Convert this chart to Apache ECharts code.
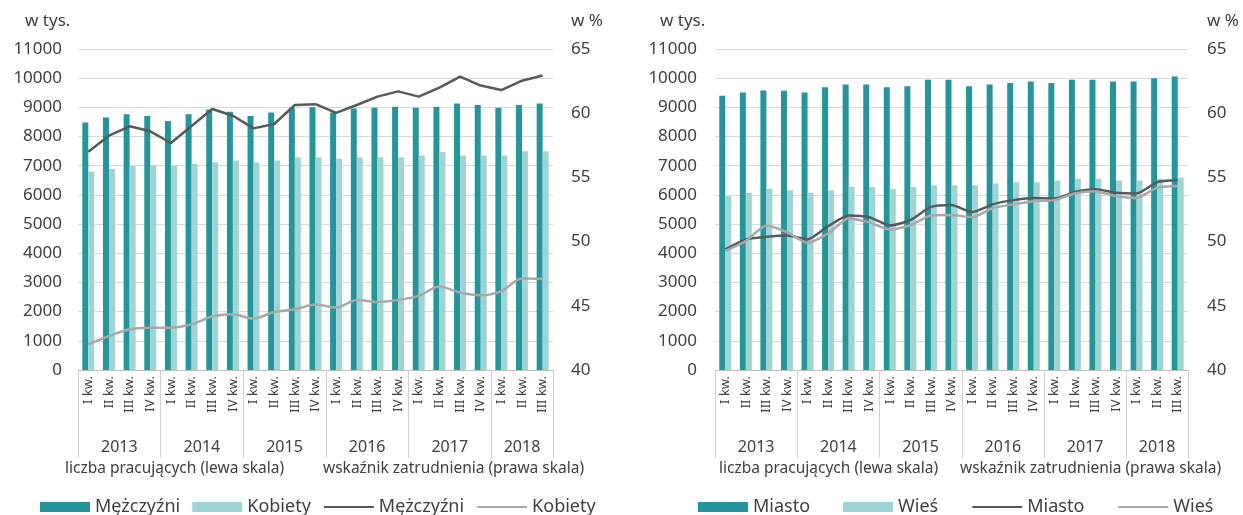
<!DOCTYPE html>
<html>
<head>
<meta charset="utf-8">
<script src="https://cdn.jsdelivr.net/npm/echarts@6/dist/echarts.min.js"></script>
<style>
html,body{margin:0;padding:0;background:#fff;}
#c{width:1243px;height:515px;}
</style>
</head>
<body>
<div id="c"></div>
<script>
// ---- data ----
const quarters = ['I kw.','II kw.','III kw.','IV kw.','I kw.','II kw.','III kw.','IV kw.','I kw.','II kw.','III kw.','IV kw.','I kw.','II kw.','III kw.','IV kw.','I kw.','II kw.','III kw.','IV kw.','I kw.','II kw.','III kw.'];
const years = ['2013','2014','2015','2016','2017','2018'];
const quartersPerYear = [4,4,4,4,4,3];
const leftTicks = [0,1000,2000,3000,4000,5000,6000,7000,8000,9000,10000,11000];
const rightTicks = [40,45,50,55,60,65];

const menBars = [8480,8650,8760,8700,8530,8760,8930,8850,8700,8820,8990,9000,8820,8960,8990,9020,8990,9020,9130,9080,8990,9080,9130];
const womenBars = [6800,6890,7000,7000,7000,7060,7120,7180,7120,7180,7290,7290,7240,7290,7290,7290,7350,7470,7350,7350,7350,7500,7500];
const menRate = [57.0,58.25,58.98,58.59,57.68,59.0,60.33,59.8,58.82,59.16,60.64,60.7,60.02,60.64,61.29,61.7,61.29,62.0,62.85,62.15,61.8,62.53,62.93];
const womenRate = [42.0,42.64,43.17,43.3,43.3,43.56,44.16,44.34,44.0,44.52,44.73,45.1,44.86,45.45,45.3,45.45,45.77,46.5,46.03,45.82,46.15,47.12,47.1];

const cityBars = [9400,9510,9580,9570,9510,9685,9780,9780,9685,9720,9950,9950,9720,9780,9835,9890,9835,9950,9950,9890,9890,10000,10060];
const villageBars = [5950,6070,6215,6160,6070,6160,6275,6275,6215,6275,6330,6330,6330,6390,6430,6430,6490,6550,6550,6490,6490,6550,6600];
const cityRate = [49.4,50.17,50.37,50.47,50.17,51.2,52.03,51.9,51.26,51.67,52.7,52.85,52.3,52.9,53.23,53.4,53.35,53.86,54.07,53.8,53.75,54.63,54.8];
const villageRate = [49.27,50.05,51.26,50.74,49.9,50.63,51.8,51.5,50.94,51.26,52.04,52.07,51.9,52.6,52.9,53.15,53.23,53.75,53.93,53.54,53.4,54.2,54.33];

// ---- derived year positions on the category index scale ----
const yearBounds = [-0.5];
const yearCenters = [];
let acc = -0.5;
quartersPerYear.forEach(n => { yearCenters.push(acc + n / 2); acc += n; yearBounds.push(acc); });

const FONT = 'Noto Sans';
const NARROW = '"Liberation Sans Narrow", "Noto Sans", sans-serif';
const TXT = '#404040';
const DARK = '#24959a';
const LIGHT = '#9fd4d4';
const LDARK = '#555a5d';
const LLIGHT = '#a8a8a8';
const GRID = '#d9d9d9';
const RATE_SUFFIX = ' \u2013 wskaźnik';

function xAxesFor(g) {
  return [
    {
      gridIndex: g, type: 'category', data: quarters, boundaryGap: true, position: 'bottom',
      axisLine: { show: true, lineStyle: { color: '#bfbfbf', width: 1 } },
      axisTick: { show: false },
      axisLabel: { rotate: 90, interval: 0, fontSize: 13, margin: 6, color: TXT, fontFamily: NARROW }
    },
    {
      gridIndex: g, type: 'value', min: -0.5, max: quarters.length - 0.5, position: 'bottom',
      splitLine: { show: false },
      axisLine: { show: false },
      axisTick: { show: true, customValues: yearBounds, length: 88, lineStyle: { color: '#d0d0d0', width: 1 } },
      axisLabel: {
        customValues: yearCenters, margin: 69, fontSize: 16, color: TXT, fontFamily: FONT,
        formatter: v => { const i = yearCenters.findIndex(c => Math.abs(c - v) < 1e-6); return i >= 0 ? years[i] : ''; }
      }
    }
  ];
}

function yAxesFor(g, lm, rm, np) {
  return [
    {
      gridIndex: g, type: 'value', min: leftTicks[0], max: leftTicks[leftTicks.length - 1],
      interval: leftTicks[1] - leftTicks[0], position: 'left',
      name: 'w tys.', nameLocation: 'end', nameGap: 19,
      nameTextStyle: { align: 'right', padding: [0, np, 0, 0], fontSize: 17, color: TXT, fontFamily: FONT },
      axisLine: { show: false }, axisTick: { show: false },
      splitLine: { show: true, lineStyle: { color: GRID, width: 1 } },
      axisLabel: { fontSize: 17, margin: lm, color: TXT, fontFamily: FONT, formatter: v => String(v) }
    },
    {
      gridIndex: g, type: 'value', min: rightTicks[0], max: rightTicks[rightTicks.length - 1],
      interval: rightTicks[1] - rightTicks[0], position: 'right', alignTicks: false,
      name: 'w %', nameLocation: 'end', nameGap: 19,
      nameTextStyle: { align: 'left', padding: [0, 0, 0, rm], fontSize: 17, color: TXT, fontFamily: FONT },
      axisLine: { show: false }, axisTick: { show: false },
      splitLine: { show: false },
      axisLabel: { fontSize: 17, margin: rm, color: TXT, fontFamily: FONT, formatter: v => String(v) }
    }
  ];
}

function barSeries(name, data, color, xIdx, yIdx) {
  return { name, type: 'bar', data, xAxisIndex: xIdx, yAxisIndex: yIdx,
    barWidth: 6, barGap: '0%', itemStyle: { color }, emphasis: { disabled: true } };
}
function lineSeries(name, data, color, xIdx, yIdx, smooth) {
  return { name, type: 'line', data, xAxisIndex: xIdx, yAxisIndex: yIdx, symbol: 'none',
    smooth, lineStyle: { color, width: 2.5 }, itemStyle: { color }, emphasis: { disabled: true }, z: 5 };
}

const legendCommon = {
  itemWidth: 50, itemHeight: 10, top: 493,
  textStyle: { fontSize: 18, color: TXT, fontFamily: FONT },
  formatter: n => n.replace(RATE_SUFFIX, ''),
  selectedMode: false
};
const barItem = name => ({ name, icon: 'rect' });
const lineItem = name => ({ name: name + RATE_SUFFIX, itemStyle: { opacity: 0 } });

const titleStyle = { fontSize: 15.5, fontWeight: 'normal', color: TXT, fontFamily: FONT };

const option = {
  animation: false,
  backgroundColor: '#fff',
  textStyle: { fontFamily: FONT },
  grid: [
    { left: 78, right: 1243 - 553, top: 49, bottom: 515 - 370, containLabel: false },
    { left: 715, right: 1243 - 1188, top: 49, bottom: 515 - 370, containLabel: false }
  ],
  xAxis: [...xAxesFor(0), ...xAxesFor(1)],
  yAxis: [...yAxesFor(0, 16, 18, 18), ...yAxesFor(1, 18, 19, 20)],
  title: [
    { text: 'liczba pracujących (lewa skala)', left: 65, top: 461, textStyle: titleStyle, padding: 0 },
    { text: 'wskaźnik zatrudnienia (prawa skala)', left: 323, top: 461, textStyle: titleStyle, padding: 0 },
    { text: 'liczba pracujących (lewa skala)', left: 719, top: 461, textStyle: titleStyle, padding: 0 },
    { text: 'wskaźnik zatrudnienia (prawa skala)', left: 960, top: 461, textStyle: titleStyle, padding: 0 }
  ],
  legend: [
    Object.assign({}, legendCommon, { left: 35, itemGap: 12,
      data: [barItem('Mężczyźni'), barItem('Kobiety'), lineItem('Mężczyźni'), lineItem('Kobiety')] }),
    Object.assign({}, legendCommon, { left: 693, itemGap: 33,
      data: [barItem('Miasto'), barItem('Wieś'), lineItem('Miasto'), lineItem('Wieś')] })
  ],
  series: [
    barSeries('Mężczyźni', menBars, DARK, 0, 0),
    barSeries('Kobiety', womenBars, LIGHT, 0, 0),
    lineSeries('Mężczyźni' + RATE_SUFFIX, menRate, LDARK, 0, 1, false),
    lineSeries('Kobiety' + RATE_SUFFIX, womenRate, LLIGHT, 0, 1, 0.3),
    barSeries('Miasto', cityBars, DARK, 2, 2),
    barSeries('Wieś', villageBars, LIGHT, 2, 2),
    lineSeries('Miasto' + RATE_SUFFIX, cityRate, LDARK, 2, 3, 0.2),
    lineSeries('Wieś' + RATE_SUFFIX, villageRate, LLIGHT, 2, 3, 0.2)
  ]
};

const chart = echarts.init(document.getElementById('c'), null, { renderer: 'canvas' });
chart.setOption(option);
</script>
</body>
</html>
